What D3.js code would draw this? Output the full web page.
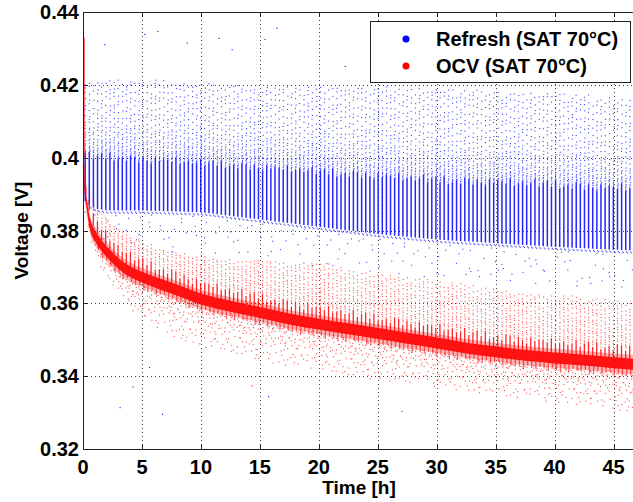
<!DOCTYPE html>
<html>
<head>
<meta charset="utf-8">
<script src="https://cdn.jsdelivr.net/npm/d3@7"></script>
<style>
  body { margin: 0; background: #fff; }
  svg { display: block; }
  text { font-family: "Liberation Sans", Arial, sans-serif; font-weight: bold; fill: #000; }
</style>
</head>
<body>
<svg id="chart" width="633" height="502"></svg>
<script>
// tick labels
const xTicks = [0, 5, 10, 15, 20, 25, 30, 35, 40, 45]
const yTicks = [0.32, 0.34, 0.36, 0.38, 0.40, 0.42, 0.44]

// envelopes (time in h, voltage in V)
// Refresh: bottom of the dense columns, top of the solid part, top of the sparse dots, lowest sparse dots
const refT     = [0,     0.5,   1,     2,     5,     10,    15,    20,    25,    30,     35,     40,     45,     47]
const refLow   = [0.3885,0.3868,0.386, 0.3855,0.3855,0.385, 0.383, 0.381, 0.379, 0.3775, 0.3765, 0.3755, 0.3747, 0.3745]
const refDense = [0.405, 0.404, 0.404, 0.404, 0.403, 0.402, 0.401, 0.400, 0.399, 0.398,  0.3975, 0.397,  0.396,  0.396]
const refHigh  = [0.421, 0.4215,0.421, 0.421, 0.421, 0.420, 0.4195,0.419, 0.419, 0.4185, 0.418,  0.4175, 0.416,  0.415]
const refBelow = [0.384, 0.380, 0.378, 0.376, 0.375, 0.373, 0.371, 0.370, 0.368, 0.367,  0.366,  0.365,  0.364,  0.364]

// OCV: centre of the dense band, top of the sparse spikes, lowest scattered dots
const ocvT    = [0,     0.15,  0.3,   0.6,   1,     1.5,    2.3,    3.1,   4,     5,      6.5,    7.5,    10,     12.5,  15,     17.5,  20,     22.5,   25,    27.5,   30,     32.5,  35,    37.5,  40,     42.5,   45,    47]
const ocvMid  = [0.400, 0.392, 0.388, 0.382, 0.379, 0.3765, 0.3735, 0.371, 0.369, 0.3675, 0.3656, 0.3645, 0.3615, 0.3595,0.3578, 0.356, 0.3546, 0.3533, 0.352, 0.3507, 0.3494, 0.348, 0.347, 0.346, 0.3453, 0.3447, 0.344, 0.3435]
const ocvHigh = [0.402, 0.398, 0.395, 0.390, 0.387, 0.385,  0.382,  0.380, 0.378, 0.377,  0.375,  0.374,  0.373,  0.372, 0.372,  0.371, 0.371,  0.3695, 0.368, 0.367,  0.366,  0.365, 0.364, 0.363, 0.362,  0.3615, 0.361, 0.360]
const ocvLow  = [0.396, 0.388, 0.384, 0.378, 0.374, 0.370,  0.366,  0.362, 0.359, 0.356,  0.353,  0.351,  0.348,  0.346, 0.344,  0.343, 0.342,  0.3405, 0.339, 0.338,  0.337,  0.336, 0.335, 0.334, 0.333,  0.332,  0.331, 0.330]

// single points well away from the clouds
const blueOutT = [1.8,    5.2,   6.3,    8.8,    11.5,   12.6,  15.4,   16.4,   22.2,   3.1,    4.2,    5.6,    6.7,    15.7]
const blueOutV = [0.4312, 0.434, 0.4348, 0.4316, 0.4329, 0.4298, 0.4326, 0.4357, 0.4252, 0.3315, 0.3372, 0.3425, 0.3297, 0.3345]
const redOutT = [0.0, 14.3, 27.0]
const redOutV = [0.333, 0.3375, 0.3305]

// fixed texture offsets so the dot clouds are not a perfect lattice
const jit = [0.13, 0.71, 0.42, 0.93, 0.27, 0.58, 0.05, 0.84, 0.36, 0.66, 0.19, 0.49, 0.88, 0.31, 0.75, 0.02, 0.61, 0.45, 0.97, 0.23, 0.54, 0.09, 0.79, 0.38, 0.68, 0.16, 0.91]
const J = (a, b) => jit[Math.abs(a * 7 + b * 11) % jit.length]

const svg = d3.select("#chart")
const margin = { left: 83, top: 12, bottom: 449 }
const pxPerHour = 11.79

const x = d3.scaleLinear().domain([0, 47]).range([margin.left, margin.left + 47 * pxPerHour])
const y = d3.scaleLinear().domain([0.32, 0.44]).range([margin.bottom, margin.top])

const refLowAt = d3.scaleLinear().domain(refT).range(refLow).clamp(true)
const refDenseAt = d3.scaleLinear().domain(refT).range(refDense).clamp(true)
const refHighAt = d3.scaleLinear().domain(refT).range(refHigh).clamp(true)
const refBelowAt = d3.scaleLinear().domain(refT).range(refBelow).clamp(true)
const ocvMidAt = d3.scaleLinear().domain(ocvT).range(ocvMid).clamp(true)
const ocvHighAt = d3.scaleLinear().domain(ocvT).range(ocvHigh).clamp(true)
const ocvLowAt = d3.scaleLinear().domain(ocvT).range(ocvLow).clamp(true)

// refresh pulses come roughly every 21 minutes
const pulseTimes = d3.range(0.12, 47, 0.35)

// grid
const grid = svg.append("g").attr("stroke", "#444").attr("stroke-dasharray", "1,3").attr("stroke-width", 1)
grid.selectAll(".gx").data(xTicks.slice(1)).join("line")
  .attr("x1", d => Math.round(x(d)) + 0.5).attr("x2", d => Math.round(x(d)) + 0.5)
  .attr("y1", margin.top).attr("y2", margin.bottom)
grid.selectAll(".gy").data(yTicks.slice(1, -1)).join("line")
  .attr("y1", d => Math.round(y(d)) + 0.5).attr("y2", d => Math.round(y(d)) + 0.5)
  .attr("x1", margin.left).attr("x2", 640)

const dots = g => g
  .selectAll("rect").data(d => d).join("rect")
  .attr("x", d => d[0]).attr("y", d => d[1])
  .attr("width", 1.1).attr("height", 1.1)

// ---- Refresh (blue) ----
const blueSolid = [], blueDots = []
pulseTimes.forEach((t, i) => {
  const px = x(t)
  const yLow = y(refLowAt(t)), yDense = y(refDenseAt(t)), yHigh = y(refHighAt(t))
  const ySolid = yLow - (yLow - yDense) * (0.74 + 0.12 * J(i, 1))
  blueSolid.push({ x: px, y0: ySolid, y1: yLow })
  // thinning dots above the solid part
  let yy = ySolid - 1, step = 1.3, k = 0
  while (yy > yHigh - 3 * J(i, 5)) {
    blueDots.push([px + 0.8 * J(i, k), yy])
    yy -= step * (0.45 + 1.1 * J(i, k + 3))
    step = Math.min(step * 1.11, 6)
    k++
  }
  // small hook at the bottom of each pulse
  blueDots.push([px + 1, yLow + 1.2], [px + 2, yLow + 2.2])
  // sparse dots below the columns
  const yBelow = y(refBelowAt(t))
  const n = [1, 0, 2, 1, 1, 3, 0, 2][i % 8]
  for (let m = 1; m <= n; m++) {
    blueDots.push([px + 3 * J(i, m + 2), yLow + 3 + (yBelow - yLow - 3) * J(i, m)])
  }
})

const blue = svg.append("g").attr("fill", "#0000ff")
blue.append("g").attr("opacity", 0.85)
  .selectAll("rect").data(blueSolid).join("rect")
  .attr("x", d => d.x).attr("y", d => d.y0)
  .attr("width", 1.5).attr("height", d => d.y1 - d.y0)
blue.append("g").attr("opacity", 0.75).datum(blueDots).call(dots)
blue.append("g").datum(blueOutT.map((t, i) => [x(t), y(blueOutV[i])])).call(dots)

// ---- OCV (red) ----
const red = svg.append("g").attr("fill", "#ff0000")
const band = (lo, hi) => d3.area()
  .x((d, i) => x(ocvT[i]))
  .y0((d, i) => y(ocvMid[i] - lo))
  .y1((d, i) => y(ocvMid[i] + hi))
  .curve(d3.curveMonotoneX)
red.append("path").datum(ocvT).attr("d", band(0.003, 0.0022)).attr("opacity", 0.3)
red.append("path").datum(ocvT).attr("d", band(0.0018, 0.0012)).attr("opacity", 0.9)

// near t = 0 the OCV trace runs along the axis
red.append("rect").attr("x", x(0) + 0.5).attr("y", y(0.433))
  .attr("width", 1.2).attr("height", y(ocvMid[0]) - y(0.433)).attr("opacity", 0.8)

const redSpikes = [], redDots = []
pulseTimes.forEach((t, i) => {
  const px = x(t)
  const mid = ocvMidAt(t)
  const yTopBand = y(mid + 0.0012)
  const yBotBand = y(mid - 0.0018)
  const ySpike = y(mid + 0.003 + 0.0022 * J(i, 2))
  const yHigh = y(ocvHighAt(t)), yLow = y(ocvLowAt(t))
  redSpikes.push({ x: px, y0: ySpike, y1: yTopBand + 1, o: 0.85 })
  redSpikes.push({ x: px + 1, y0: yBotBand - 1, y1: y(mid - 0.0028 - 0.0014 * J(i, 4)), o: 0.6 })
  // sparse dots above the spike
  let yy = ySpike - 1.5 - 2 * J(i, 0), step = 2.4, k = 0
  while (yy > yHigh - 2 * J(i, 9)) {
    redDots.push([px + 0.6 * J(i, k), yy])
    yy -= step * (0.5 + J(i, k + 1))
    step = Math.min(step * 1.05, 4.5)
    k++
  }
  // scattered dots below the band
  let yb = yBotBand + 3 + 3 * J(i, 6), sb = 2.4
  k = 0
  while (yb < yLow) {
    redDots.push([px - 2 + 4.2 * J(i, k + 5), yb])
    yb += sb * (0.4 + 1.3 * J(i, k + 2))
    sb = Math.min(sb * 1.2, 10)
    k++
  }
})
red.append("g")
  .selectAll("rect").data(redSpikes).join("rect")
  .attr("x", d => d.x).attr("y", d => d.y0)
  .attr("width", 1.3).attr("height", d => Math.max(0, d.y1 - d.y0))
  .attr("opacity", d => d.o)
red.append("g").attr("opacity", 0.7).datum(redDots).call(dots)
red.append("g").datum(redOutT.map((t, i) => [x(t), y(redOutV[i])])).call(dots)

// ---- axes ----
const axes = svg.append("g").attr("stroke", "#222").attr("fill", "none")
axes.append("line").attr("x1", margin.left + 0.5).attr("x2", margin.left + 0.5).attr("y1", margin.top).attr("y2", margin.bottom)
axes.append("line").attr("x1", margin.left).attr("x2", 640).attr("y1", margin.bottom + 0.5).attr("y2", margin.bottom + 0.5)
axes.append("line").attr("x1", margin.left).attr("x2", 640).attr("y1", margin.top + 0.5).attr("y2", margin.top + 0.5)
// inward ticks on all sides
axes.selectAll(".tb").data(xTicks).join("line")
  .attr("x1", d => Math.round(x(d)) + 0.5).attr("x2", d => Math.round(x(d)) + 0.5)
  .attr("y1", margin.bottom).attr("y2", margin.bottom - 5)
axes.selectAll(".tt").data(xTicks).join("line")
  .attr("x1", d => Math.round(x(d)) + 0.5).attr("x2", d => Math.round(x(d)) + 0.5)
  .attr("y1", margin.top).attr("y2", margin.top + 5)
axes.selectAll(".tl").data(yTicks).join("line")
  .attr("y1", d => Math.round(y(d)) + 0.5).attr("y2", d => Math.round(y(d)) + 0.5)
  .attr("x1", margin.left).attr("x2", margin.left + 5)

svg.append("g").selectAll("text").data(xTicks).join("text")
  .attr("x", d => x(d)).attr("y", 474)
  .attr("text-anchor", "middle").attr("font-size", 20)
  .text(d => d)
svg.append("g").selectAll("text").data(yTicks).join("text")
  .attr("x", 79).attr("y", d => y(d) + 7)
  .attr("text-anchor", "end").attr("font-size", 20)
  .text(d => d3.format(".2~f")(d))

svg.append("text").attr("x", 359).attr("y", 494)
  .attr("text-anchor", "middle").attr("font-size", 19).text("Time [h]")
svg.append("text").attr("transform", `translate(28,${(margin.top + margin.bottom) / 2}) rotate(-90)`)
  .attr("text-anchor", "middle").attr("font-size", 19).text("Voltage [V]")

// ---- legend ----
const legend = svg.append("g")
legend.append("rect").attr("x", 370.5).attr("y", 21.5).attr("width", 260).attr("height", 61)
  .attr("fill", "#fff").attr("stroke", "#222")
const legendItems = [["Refresh (SAT 70°C)", "#0000ff"], ["OCV (SAT 70°C)", "#ff0000"]]
legend.selectAll("circle").data(legendItems).join("circle")
  .attr("cx", 406).attr("cy", (d, i) => 39 + i * 27).attr("r", 3.5).attr("fill", d => d[1])
legend.selectAll("text").data(legendItems).join("text")
  .attr("x", 436).attr("y", (d, i) => 46 + i * 27).attr("font-size", 20)
  .text(d => d[0])
</script>
</body>
</html>
